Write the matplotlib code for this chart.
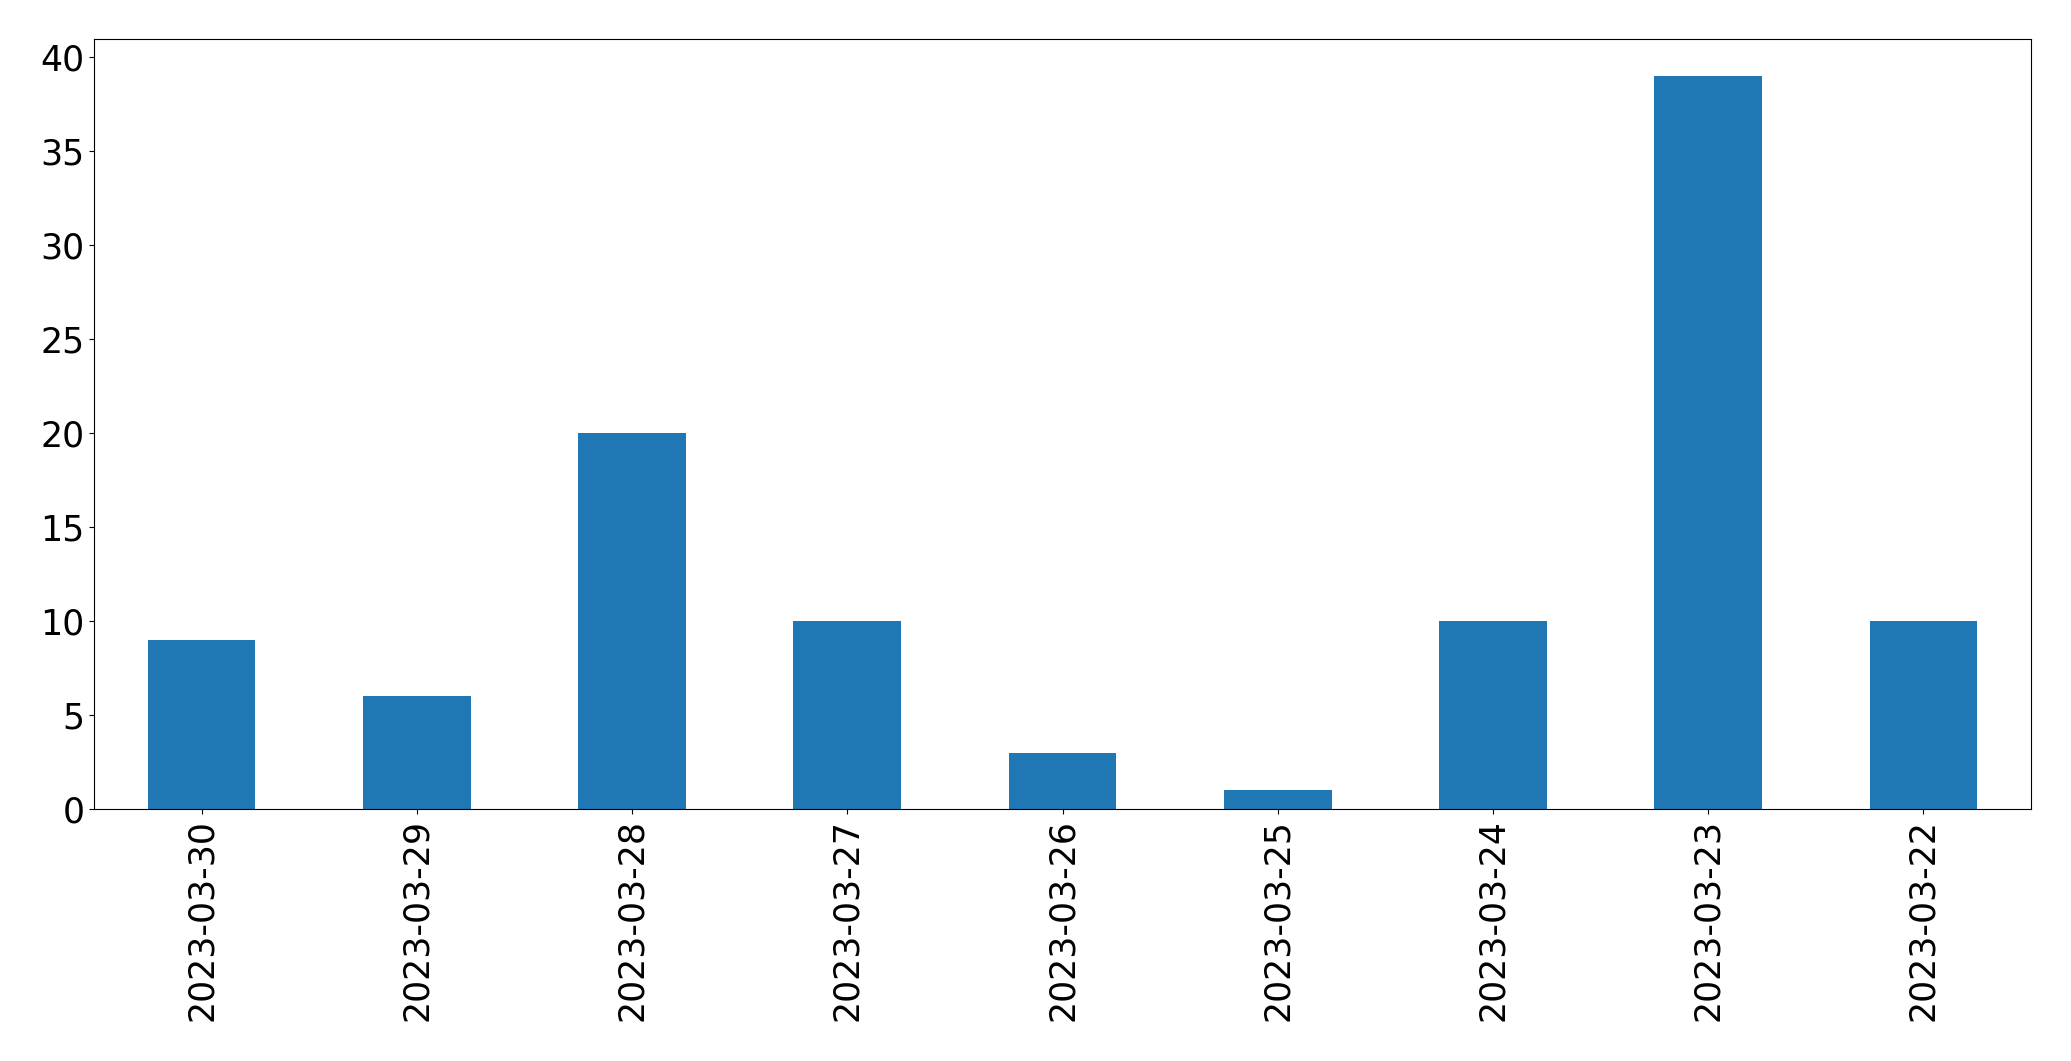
import matplotlib
matplotlib.use("Agg")
import matplotlib.pyplot as plt
import pandas as pd

# daily counts, newest first (as in the original chart)
dates = ['2023-03-30', '2023-03-29', '2023-03-28', '2023-03-27', '2023-03-26',
         '2023-03-25', '2023-03-24', '2023-03-23', '2023-03-22']
counts = [9, 6, 20, 10, 3, 1, 10, 39, 10]

s = pd.Series(counts, index=dates)

fig = plt.figure(figsize=(20.71, 10.61), dpi=100)
ax = fig.add_subplot(111)
fig.subplots_adjust(left=0.0454, right=0.9807, top=0.9632, bottom=0.2375)

s.plot(kind='bar', ax=ax, color='#1f77b4', fontsize=25)
ax.tick_params(axis='both', labelsize=25)

fig.savefig('out.png', dpi=100)
